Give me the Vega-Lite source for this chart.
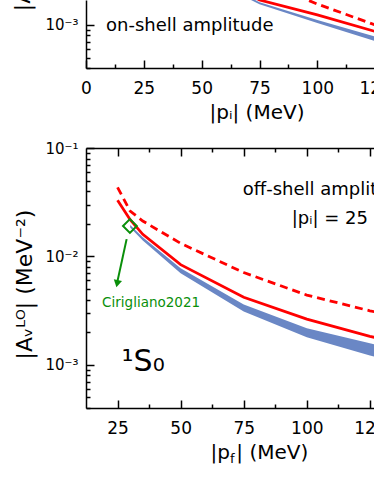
{
  "$schema": "https://vega.github.io/schema/vega-lite/v6.json",
  "padding": {"left": 11, "top": -12, "right": -74, "bottom": 0},
  "spacing": 19,
  "config": {
    "font": "DejaVu Sans",
    "view": {"stroke": null},
    "axis": {"grid": false, "labelFlush": false, "domainColor": "black", "domainWidth": 1.5, "tickColor": "black", "tickWidth": 1.5, "labelColor": "black", "titleColor": "black", "labelFont": "DejaVu Sans", "titleFont": "DejaVu Sans", "titleFontWeight": "normal", "labelFontSize": 17, "titleFontSize": 20},
    "text": {"font": "DejaVu Sans"}
  },
  "datasets": {
    "ub": [{"p":50,"lo":0.0029,"hi":0.0031},{"p":75,"lo":0.00155,"hi":0.00162},{"p":100,"lo":0.00104,"hi":0.00111},{"p":125,"lo":0.00071,"hi":0.00078},{"p":150,"lo":0.00052,"hi":0.00058}],
    "us": [{"p":50,"v":0.0034},{"p":75,"v":0.0017},{"p":100,"v":0.00124},{"p":125,"v":0.00087},{"p":150,"v":0.00065}],
    "ud": [{"p":50,"v":0.0045},{"p":75,"v":0.0026},{"p":100,"v":0.00156},{"p":125,"v":0.001},{"p":150,"v":0.00072}],
    "lb": [{"p":30,"lo":0.0185,"hi":0.0195},{"p":35,"lo":0.014,"hi":0.015},{"p":50,"lo":0.007,"hi":0.0078},{"p":75,"lo":0.0031,"hi":0.0036},{"p":100,"lo":0.0018,"hi":0.00217},{"p":125,"lo":0.00122,"hi":0.00158},{"p":150,"lo":0.0009,"hi":0.0012}],
    "ls": [{"p":25,"v":0.033},{"p":30,"v":0.0218},{"p":35,"v":0.016},{"p":50,"v":0.0084},{"p":75,"v":0.0042},{"p":100,"v":0.00264},{"p":125,"v":0.00183},{"p":150,"v":0.00138}],
    "ld": [{"p":25,"v":0.0434},{"p":30,"v":0.0262},{"p":35,"v":0.0212},{"p":50,"v":0.0132},{"p":75,"v":0.0071},{"p":100,"v":0.0044},{"p":125,"v":0.00315},{"p":150,"v":0.0024}],
    "utext": [{"p":8.65,"v":0.00088,"t":"on-shell amplitude"}],
    "ltext": [{"p":74.6,"v":0.0368,"t":"off-shell amplitude"},{"p":94.0,"v":0.0199,"t":"|pᵢ| = 25 MeV"}],
    "cir": [{"p":38.3,"v":0.0034,"t":"Cirigliano2021"}],
    "diamond": [{"p":29.9,"v":0.0191}],
    "arrow": [{"p":28.6,"v":0.01445},{"p":24.9,"v":0.0058}],
    "head": [{"p":24.85,"v":0.0056}],
    "s0": [{"p":26.6,"v":0.00088,"t":"¹S₀"}]
  },
  "vconcat": [
    {
      "width": 347,
      "height": 68,
      "resolve": {"axis": {"x": "independent", "y": "independent"}},
      "layer": [
        {
          "data": {"name": "ub"},
          "mark": {"type": "area", "color": "#6a87c5", "clip": true},
          "encoding": {
            "x": {"field": "p", "type": "quantitative", "scale": {"domain": [0, 150], "nice": false, "zero": false},
                  "axis": {"orient": "bottom", "values": [0, 25, 50, 75, 100, 125, 150], "tickSize": -8, "labelPadding": 20, "title": "|pᵢ| (MeV)", "titleAlign": "left", "titleBaseline": "alphabetic", "titleX": 123, "titleY": 50}},
            "y": {"field": "hi", "type": "quantitative", "scale": {"type": "log", "domain": [0.0004, 0.0017], "nice": false, "zero": false},
                  "axis": {"orient": "left", "values": [0.001], "tickSize": -8, "labelPadding": 16, "labelFontSize": 15, "labelExpr": "'10⁻³'", "title": "|A", "titleFontSize": 22, "titleAngle": 270, "titleAlign": "left", "titleBaseline": "bottom", "titleX": -52, "titleY": 10.7}},
            "y2": {"field": "lo"}
          }
        },
        {
          "data": {"name": "us"},
          "mark": {"type": "line", "color": "#ff0000", "strokeWidth": 2.8, "clip": true},
          "encoding": {
            "x": {"field": "p", "type": "quantitative", "scale": {"domain": [0, 150], "nice": false, "zero": false},
                  "axis": {"orient": "bottom", "values": [12.5, 37.5, 62.5, 87.5, 112.5, 137.5], "tickSize": -4, "labels": false, "domain": false, "title": null}},
            "y": {"field": "v", "type": "quantitative", "scale": {"type": "log", "domain": [0.0004, 0.0017], "nice": false, "zero": false},
                  "axis": {"orient": "left", "values": [0.0004, 0.0005, 0.0006, 0.0007, 0.0008, 0.0009], "tickSize": -4, "labels": false, "domain": false, "title": null}}
          }
        },
        {
          "data": {"name": "ud"},
          "mark": {"type": "line", "color": "#ff0000", "strokeWidth": 2.8, "strokeDash": [8, 5], "clip": true},
          "encoding": {
            "x": {"field": "p", "type": "quantitative", "axis": null},
            "y": {"field": "v", "type": "quantitative", "axis": null}
          }
        },
        {
          "data": {"name": "utext"},
          "mark": {"type": "text", "align": "left", "baseline": "alphabetic", "fontSize": 18, "color": "black"},
          "encoding": {
            "x": {"field": "p", "type": "quantitative", "axis": null},
            "y": {"field": "v", "type": "quantitative", "axis": null},
            "text": {"field": "t"}
          }
        }
      ]
    },
    {
      "width": 347,
      "height": 260,
      "resolve": {"axis": {"x": "independent", "y": "independent"}},
      "layer": [
        {
          "data": {"name": "lb"},
          "mark": {"type": "area", "color": "#6a87c5", "clip": true},
          "encoding": {
            "x": {"field": "p", "type": "quantitative", "scale": {"domain": [12.5, 150], "nice": false, "zero": false},
                  "axis": {"orient": "bottom", "values": [25, 50, 75, 100, 125, 150], "tickSize": -8, "labelPadding": 20, "title": "|p  | (MeV)", "titleAlign": "left", "titleBaseline": "alphabetic", "titleX": 124, "titleY": 50}},
            "y": {"field": "hi", "type": "quantitative", "scale": {"type": "log", "domain": [0.0004, 0.1], "nice": false, "zero": false},
                  "axis": {"orient": "left", "values": [0.001, 0.01, 0.1], "tickSize": -8, "labelPadding": 16, "labelFontSize": 15, "labelExpr": "datum.value > 0.05 ? '10⁻¹' : datum.value > 0.005 ? '10⁻²' : '10⁻³'", "title": "|Aᵥᴸᴼ|  (MeV⁻²)", "titleFontSize": 22, "titleAlign": "center", "titleBaseline": "bottom", "titleAngle": 270, "titleX": -50, "titleY": 136}},
            "y2": {"field": "lo"}
          }
        },
        {
          "data": {"name": "ls"},
          "mark": {"type": "line", "color": "#ff0000", "strokeWidth": 2.8, "clip": true},
          "encoding": {
            "x": {"field": "p", "type": "quantitative", "scale": {"domain": [12.5, 150], "nice": false, "zero": false},
                  "axis": {"orient": "bottom", "values": [37.5, 62.5, 87.5, 112.5, 137.5], "tickSize": -4, "labels": false, "domain": false, "title": "f", "titleFontSize": 13, "titleAlign": "left", "titleBaseline": "alphabetic", "titleX": 143.6, "titleY": 54}},
            "y": {"field": "v", "type": "quantitative", "scale": {"type": "log", "domain": [0.0004, 0.1], "nice": false, "zero": false},
                  "axis": {"orient": "left", "values": [0.0004, 0.0005, 0.0006, 0.0007, 0.0008, 0.0009, 0.002, 0.003, 0.004, 0.005, 0.006, 0.007, 0.008, 0.009, 0.02, 0.03, 0.04, 0.05, 0.06, 0.07, 0.08, 0.09], "tickSize": -4, "labels": false, "domain": false, "title": null}}
          }
        },
        {
          "data": {"name": "ld"},
          "mark": {"type": "line", "color": "#ff0000", "strokeWidth": 2.8, "strokeDash": [8, 5], "clip": true},
          "encoding": {
            "x": {"field": "p", "type": "quantitative",
                  "axis": {"orient": "top", "values": [25, 50, 75, 100, 125, 150], "tickSize": -8, "labels": false, "title": null}},
            "y": {"field": "v", "type": "quantitative", "axis": null}
          }
        },
        {
          "data": {"name": "ltext"},
          "mark": {"type": "text", "align": "left", "baseline": "alphabetic", "fontSize": 18, "color": "black"},
          "encoding": {
            "x": {"field": "p", "type": "quantitative",
                  "axis": {"orient": "top", "values": [37.5, 62.5, 87.5, 112.5, 137.5], "tickSize": -4, "labels": false, "domain": false, "title": null}},
            "y": {"field": "v", "type": "quantitative", "axis": null},
            "text": {"field": "t"}
          }
        },
        {
          "data": {"name": "cir"},
          "mark": {"type": "text", "align": "center", "baseline": "alphabetic", "fontSize": 13.5, "color": "#0a8f0a"},
          "encoding": {
            "x": {"field": "p", "type": "quantitative", "axis": null},
            "y": {"field": "v", "type": "quantitative", "axis": null},
            "text": {"field": "t"}
          }
        },
        {
          "data": {"name": "s0"},
          "mark": {"type": "text", "align": "left", "baseline": "alphabetic", "fontSize": 30, "color": "black"},
          "encoding": {
            "x": {"field": "p", "type": "quantitative", "axis": null},
            "y": {"field": "v", "type": "quantitative", "axis": null},
            "text": {"field": "t"}
          }
        },
        {
          "data": {"name": "arrow"},
          "mark": {"type": "line", "color": "#0a8f0a", "strokeWidth": 2},
          "encoding": {
            "x": {"field": "p", "type": "quantitative", "axis": null},
            "y": {"field": "v", "type": "quantitative", "axis": null}
          }
        },
        {
          "data": {"name": "head"},
          "mark": {"type": "point", "shape": "triangle-down", "filled": true, "color": "#0a8f0a", "size": 70, "angle": 12, "opacity": 1},
          "encoding": {
            "x": {"field": "p", "type": "quantitative", "axis": null},
            "y": {"field": "v", "type": "quantitative", "axis": null}
          }
        },
        {
          "data": {"name": "diamond"},
          "mark": {"type": "point", "shape": "diamond", "filled": false, "color": "#0a8f0a", "size": 190, "strokeWidth": 2, "opacity": 1},
          "encoding": {
            "x": {"field": "p", "type": "quantitative", "axis": null},
            "y": {"field": "v", "type": "quantitative", "axis": null}
          }
        }
      ]
    }
  ]
}
